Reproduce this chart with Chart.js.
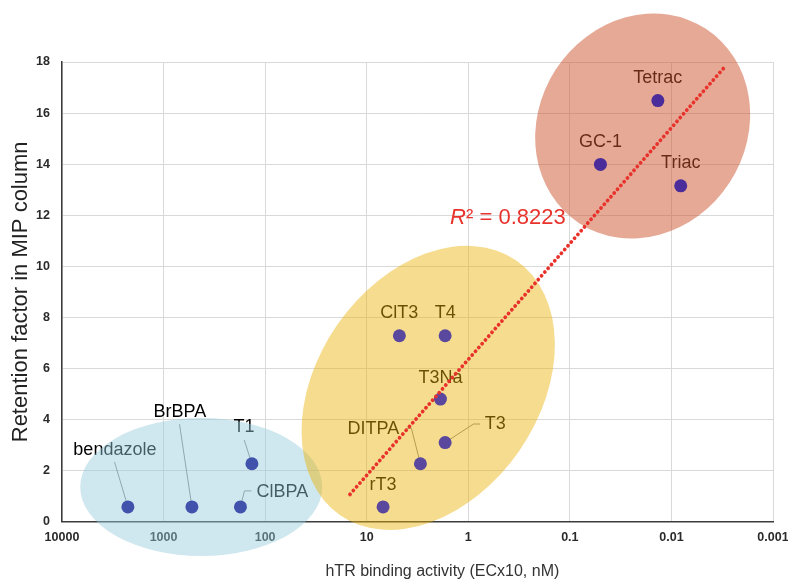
<!DOCTYPE html>
<html><head><meta charset="utf-8">
<style>html,body{margin:0;padding:0;background:#fff}</style>
<script src="https://cdn.jsdelivr.net/npm/chart.js@4/dist/chart.umd.min.js"></script>
</head><body>
<canvas id="c" width="788" height="580" style="width:788px;height:580px;display:block"></canvas>
<script>
// ---- data ----
const compounds = ['bendazole','BrBPA','ClBPA','T1','rT3','DITPA','T3','T3Na','ClT3','T4','GC-1','Tetrac','Triac'];
const bindingEC = [2245, 526, 175, 135, 6.9, 2.96, 1.69, 1.88, 4.77, 1.69, 0.050, 0.0136, 0.0081];
const retentionFactor = [0.58, 0.58, 0.58, 2.27, 0.58, 2.27, 3.10, 4.80, 7.28, 7.28, 13.99, 16.49, 13.15];
const trendX = [14.6, 0.003];
const trendY = [1.07, 17.8];
const rSquared = '0.8223';
const xTickValues = [10000, 1000, 100, 10, 1, 0.1, 0.01, 0.001];
const xTickLabels = ['10000', '1000', '100', '10', '1', '0.1', '0.01', '0.001'];
const yTickLabels = ['0','2','4','6','8','10','12','14','16','18'];
const xTitle = 'hTR binding activity (ECx10, nM)';
const yTitle = 'Retention factor in MIP column';

// ---- styles / annotation layout ----
const pointColors = ['#4052ab','#4052ab','#4052ab','#4052ab',
  '#5a489e','#5a489e','#5a489e','#5a489e','#5a489e','#5a489e',
  '#4a2c9a','#4a2c9a','#4a2c9a'];
const labelOffset = {
  'bendazole':[-13,-57], 'BrBPA':[-12,-95], 'ClBPA':[42,-15], 'T1':[-8,-37],
  'rT3':[0,-22], 'DITPA':[-47,-34.5], 'T3':[50,-18.5], 'T3Na':[0,-21.5],
  'ClT3':[0,-22.5], 'T4':[0,-22.5], 'GC-1':[0,-22.5], 'Tetrac':[0,-23], 'Triac':[0,-22.5]
};
const leaders = {
  'bendazole':[[-13.4,-45]], 'BrBPA':[[-12.4,-82.7]], 'T1':[[-7.7,-23.7]],
  'ClBPA':[[11,-16],[4,-16]], 'DITPA':[[-14,-35.4],[-9,-35.4]], 'T3':[[35,-18.5],[28.3,-18.5]]
};
const ellipses = [
  {cx: 426, cy: 1.36, rx: 121, ry: 69, rot: 0, fill: 'rgba(148,202,217,0.45)'},
  {cx: 2.48, cy: 5.24, rx: 154.8, ry: 110.7, rot: -55.3, fill: 'rgba(235,178,4,0.45)'},
  {cx: 0.0192, cy: 15.49, rx: 116, ry: 103.7, rot: -57, fill: 'rgba(203,83,45,0.5)'}
];
const r2Anchor = {x: 1.51, y: 11.66};
const FONT = '"Liberation Sans", Arial, sans-serif';

const annot = {
  id: 'annot',
  beforeDatasetsDraw(chart) {
    const {ctx, scales: {x, y}} = chart;
    ctx.save();
    compounds.forEach((n, i) => {
      const px = x.getPixelForValue(bindingEC[i]);
      const py = y.getPixelForValue(retentionFactor[i]);
      const l = leaders[n];
      if (l) {
        ctx.beginPath();
        ctx.strokeStyle = '#8a8a8a';
        ctx.lineWidth = 1;
        l.forEach((p, k) => { if (k) ctx.lineTo(px + p[0], py + p[1]); else ctx.moveTo(px + p[0], py + p[1]); });
        ctx.lineTo(px, py);
        ctx.stroke();
      }
      const o = labelOffset[n] || [0, -22];
      ctx.fillStyle = '#000';
      ctx.font = '18px ' + FONT;
      ctx.textAlign = 'center';
      ctx.textBaseline = 'middle';
      ctx.fillText(n, px + o[0], py + o[1]);
    });
    ellipses.forEach(e => {
      ctx.beginPath();
      ctx.ellipse(x.getPixelForValue(e.cx), y.getPixelForValue(e.cy), e.rx, e.ry, e.rot * Math.PI / 180, 0, 2 * Math.PI);
      ctx.fillStyle = e.fill;
      ctx.fill();
    });
    ctx.restore();
  },
  afterDatasetsDraw(chart) {
    const {ctx, scales: {x, y}, chartArea} = chart;
    ctx.save();
    const rx = x.getPixelForValue(r2Anchor.x), ry = y.getPixelForValue(r2Anchor.y);
    ctx.fillStyle = '#e8322c';
    ctx.textBaseline = 'alphabetic';
    ctx.textAlign = 'left';
    ctx.font = 'italic 22px ' + FONT;
    ctx.fillText('R', rx, ry);
    const w = ctx.measureText('R').width;
    ctx.font = '22px ' + FONT;
    ctx.fillText('² = ' + rSquared, rx + w, ry);
    // x-axis title
    ctx.fillStyle = '#333';
    ctx.font = '16px ' + FONT;
    ctx.textAlign = 'center';
    ctx.textBaseline = 'middle';
    ctx.fillText(xTitle, chartArea.left + (chartArea.right - chartArea.left) * 0.535, 571.5);
    ctx.restore();
  }
};

new Chart(document.getElementById('c'), {
  type: 'scatter',
  data: {
    datasets: [
      {
        label: 'trend',
        data: trendX.map((v, i) => ({x: v, y: trendY[i]})),
        showLine: true,
        borderColor: '#e8322c',
        borderWidth: 3.8,
        borderDash: [0.01, 5],
        borderCapStyle: 'round',
        pointRadius: 0,
        fill: false,
        order: 0
      },
      {
        label: 'compounds',
        data: bindingEC.map((v, i) => ({x: v, y: retentionFactor[i]})),
        pointRadius: 6.5,
        pointHoverRadius: 6.5,
        pointBackgroundColor: pointColors,
        pointBorderWidth: 0,
        order: 1
      }
    ]
  },
  options: {
    responsive: false,
    animation: false,
    devicePixelRatio: 1,
    events: [],
    layout: {padding: {top: 62, right: 15, left: 0, bottom: 0}},
    plugins: {legend: {display: false}, tooltip: {enabled: false}},
    scales: {
      x: {
        type: 'logarithmic',
        reverse: true,
        min: 0.001,
        max: 10000,
        afterBuildTicks: s => { s.ticks = xTickValues.map(v => ({value: v})); },
        afterFit: s => { s.height = 58.3; s.paddingLeft = 0; s.paddingRight = 0; },
        ticks: {
          autoSkip: false, maxRotation: 0, minRotation: 0, padding: 8,
          color: '#2a2a2a', font: {family: FONT, size: 12.5, weight: 'bold'},
          callback: v => xTickLabels[xTickValues.findIndex(t => Math.abs(Math.log10(t) - Math.log10(v)) < 1e-6)]
        },
        grid: {color: '#d9d9d9', lineWidth: 1, drawTicks: false},
        border: {color: '#3c3c3c', width: 1.5}
      },
      y: {
        min: 0, max: 18,
        afterFit: s => { s.width = 62; s.paddingTop = 0; s.paddingBottom = 0; },
        ticks: {
          stepSize: 2, padding: 12, color: '#2a2a2a',
          font: {family: FONT, size: 12.5, weight: 'bold'},
          callback: v => yTickLabels[Math.round(v / 2)]
        },
        grid: {color: '#d9d9d9', lineWidth: 1, drawTicks: false},
        border: {color: '#3c3c3c', width: 1.5},
        title: {display: true, text: yTitle, color: '#222', font: {family: FONT, size: 22}, padding: {top: 7.5, bottom: 0}}
      }
    }
  },
  plugins: [annot]
});
</script>
</body></html>
